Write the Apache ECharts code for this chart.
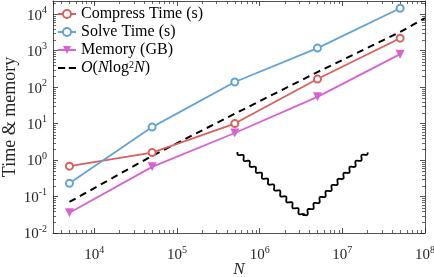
<!DOCTYPE html>
<html><head><meta charset="utf-8">
<script src="https://cdn.jsdelivr.net/npm/echarts@6/dist/echarts.min.js"></script>
<style>html,body{margin:0;padding:0;background:#fff}#c{width:434px;height:277px}</style>
</head><body><div id="c"></div>
<script>
// ---- data ----
const N = [5e3, 5e4, 5e5, 5e6, 5e7];
const compressTime = [0.68, 1.6, 10, 166, 2190];
const solveTime = [0.23, 8, 138, 1170, 14500];
const memoryGB = [0.036, 0.65, 5.5, 54, 800];
const refN = [5e3, 5e4, 5e5, 5e6, 5e7, 1e8];
const refCurve = [0.071, 1.3, 18.6, 258, 3240, 7800];
const wavyN = [5.4e5, 3.4e6, 2.0e7];
const wavyY = [1.66, 0.029, 1.66];
const seriesNames = ['Compress Time (s)', 'Solve Time (s)', 'Memory (GB)', 'O(Nlog2N)'];
const xName = 'N';
const yName = 'Time & memory';

const FONT = 'Liberation Serif';
const INK = '#262626';
const X_MIN = Math.pow(10, 3.5), X_MAX = 1e8;
const Y_MIN = 1e-2, Y_MAX = Math.pow(10, 4.36);

function powLabel(v) {
  const e = Math.log10(v);
  const r = Math.round(e);
  if (Math.abs(e - r) > 1e-6) return '';
  return '{b|10}{s|' + r + '}';
}
const labelRich = {
  b: { fontFamily: FONT, fontSize: 15, color: INK, lineHeight: 18, verticalAlign: 'bottom' },
  s: { fontFamily: FONT, fontSize: 10, color: INK, lineHeight: 18, verticalAlign: 'top' }
};

function zip(xs, ys) { return xs.map((x, i) => [x, ys[i]]); }

// minor tick positions (axis decoration)
function minorVals(lo, hi) {
  const out = [];
  for (let k = Math.floor(Math.log10(lo)); k <= Math.ceil(Math.log10(hi)); k++) {
    for (let m = 2; m <= 9; m++) {
      const v = m * Math.pow(10, k);
      if (v > lo && v < hi) out.push(v);
    }
  }
  return out;
}
const xMinor = minorVals(X_MIN, X_MAX);
const yMinor = minorVals(Y_MIN, Y_MAX);

const axisCommon = {
  type: 'log', logBase: 10,
  axisLine: { show: true, lineStyle: { color: INK, width: 0.8 } },
  axisTick: { show: true, inside: true, length: 5, lineStyle: { color: INK, width: 0.8 } },
  splitLine: { show: false },
  minorTick: { show: false }
};

const dashIcon = 'path://M0,0M20,10M0,4h8v2.2h-8zM12,4h8v2.2h-8z';

const chart = echarts.init(document.getElementById('c'), null, { renderer: 'canvas' });
chart.setOption({
  animation: false,
  backgroundColor: '#fff',
  textStyle: { fontFamily: FONT },
  grid: { left: 53, right: 9, top: 1, bottom: 44, containLabel: false, outerBoundsMode: 'none' },
  legend: {
    orient: 'vertical', left: 52, top: 1, itemGap: 2, itemWidth: 18, itemHeight: 10,
    data: [
      { name: seriesNames[0] },
      { name: seriesNames[1] },
      { name: seriesNames[2] },
      { name: seriesNames[3], icon: dashIcon, itemStyle: { color: '#000' } }
    ],
    textStyle: { fontFamily: FONT, fontSize: 16, color: '#000',
      rich: {
        i: { fontFamily: FONT, fontSize: 16, fontStyle: 'italic', color: '#000' },
        s: { fontFamily: FONT, fontSize: 10, color: '#000', verticalAlign: 'top', lineHeight: 12 },
        n: { fontFamily: FONT, fontSize: 16, color: '#000' }
      } },
    formatter: function (name) {
      if (name === seriesNames[3]) return '{i|O}{n|(}{i|N}{n|log}{s|2}{i|N}{n|)}';
      return '{n|' + name + '}';
    }
  },
  xAxis: [
    Object.assign({}, axisCommon, {
      position: 'bottom', min: X_MIN, max: X_MAX,
      name: xName, nameLocation: 'middle', nameGap: 28, nameMoveOverlap: false,
      nameTextStyle: { fontFamily: FONT, fontSize: 17, fontStyle: 'italic', color: INK },
      axisLabel: { formatter: powLabel, rich: labelRich, margin: 12, showMinLabel: false, fontFamily: FONT }
    }),
    Object.assign({}, axisCommon, {
      position: 'top', min: X_MIN, max: X_MAX, axisLabel: { show: false }
    })
  ],
  yAxis: [
    Object.assign({}, axisCommon, {
      position: 'left', min: Y_MIN, max: Y_MAX,
      name: yName, nameLocation: 'middle', nameGap: 34, nameMoveOverlap: false,
      nameTextStyle: { fontFamily: FONT, fontSize: 18, color: INK },
      axisLabel: { formatter: powLabel, rich: labelRich, margin: 6, showMaxLabel: false, fontFamily: FONT }
    }),
    Object.assign({}, axisCommon, {
      position: 'right', min: Y_MIN, max: Y_MAX, axisLabel: { show: false }
    })
  ],
  series: [
    {
      name: seriesNames[0], type: 'line', data: zip(N, compressTime),
      symbol: 'emptyCircle', symbolSize: 7, color: '#d8605f',
      lineStyle: { width: 1.8 }, itemStyle: { borderWidth: 1.5 }, z: 3
    },
    {
      name: seriesNames[1], type: 'line', data: zip(N, solveTime),
      symbol: 'emptyCircle', symbolSize: 7, color: '#62a3d6',
      lineStyle: { width: 1.8 }, itemStyle: { borderWidth: 1.5 }, z: 3
    },
    {
      name: seriesNames[2], type: 'line', data: zip(N, memoryGB),
      symbol: 'triangle', symbolRotate: 180, symbolSize: 9, color: '#d763cf',
      lineStyle: { width: 1.8 }, z: 3
    },
    {
      name: seriesNames[3], type: 'line', data: zip(refN, refCurve),
      symbol: 'none', color: '#000',
      lineStyle: { width: 2, type: [7, 5] }, z: 2
    },
    {
      name: 'wavy', type: 'custom', silent: true, z: 2,
      data: zip(wavyN, wavyY),
      renderItem: function (params, api) {
        if (params.dataIndex !== 0) return null;
        const pts = wavyN.map((x, i) => api.coord([x, wavyY[i]]));
        const out = [];
        const period = 8.5, amp = 1.8;
        let acc = 0;
        for (let s = 0; s < pts.length - 1; s++) {
          const a = pts[s], b = pts[s + 1];
          const dx = b[0] - a[0], dy = b[1] - a[1];
          const L = Math.hypot(dx, dy);
          const ux = dx / L, uy = dy / L, nx = -uy, ny = ux;
          const steps = Math.ceil(L / 0.5);
          for (let k = 0; k <= steps; k++) {
            const t = k / steps * L;
            const w = amp * Math.sin(2 * Math.PI * (acc + t) / period);
            out.push([a[0] + ux * t + nx * w, a[1] + uy * t + ny * w]);
          }
          acc += L;
        }
        return { type: 'polyline', shape: { points: out }, style: { stroke: '#000', lineWidth: 1.8, fill: null } };
      }
    },
    {
      name: 'minorTicks', type: 'custom', silent: true, z: 1,
      data: [[1e5, 1]],
      renderItem: function (params, api) {
        const cs = params.coordSys;
        const children = [];
        const len = 3;
        const st = { stroke: INK, lineWidth: 0.7 };
        xMinor.forEach(v => {
          const px = Math.round(api.coord([v, 1])[0]) + 0.5;
          children.push({ type: 'line', shape: { x1: px, y1: cs.y + cs.height, x2: px, y2: cs.y + cs.height - len }, style: st });
          children.push({ type: 'line', shape: { x1: px, y1: cs.y, x2: px, y2: cs.y + len }, style: st });
        });
        yMinor.forEach(v => {
          const py = Math.round(api.coord([1e5, v])[1]) + 0.5;
          children.push({ type: 'line', shape: { x1: cs.x, y1: py, x2: cs.x + len, y2: py }, style: st });
          children.push({ type: 'line', shape: { x1: cs.x + cs.width, y1: py, x2: cs.x + cs.width - len, y2: py }, style: st });
        });
        return { type: 'group', children: children };
      }
    }
  ]
});
</script>
</body></html>
